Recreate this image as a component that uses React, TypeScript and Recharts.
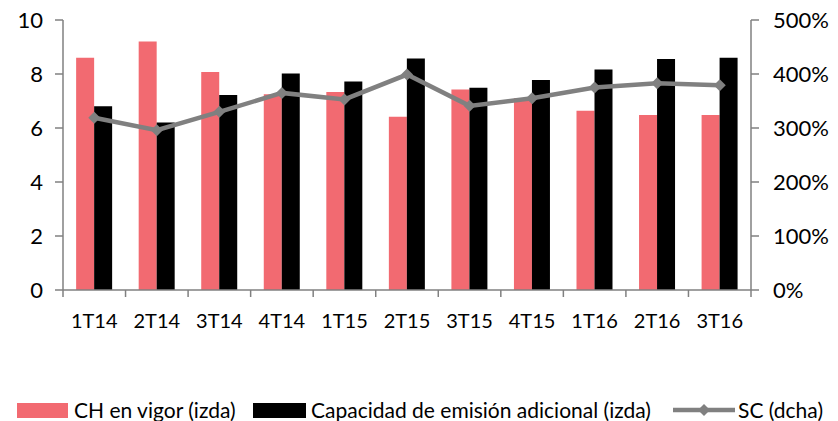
import React from "react";
import { ComposedChart, Bar, Line, XAxis, YAxis } from "recharts";

const categories = ["1T14", "2T14", "3T14", "4T14", "1T15", "2T15", "3T15", "4T15", "1T16", "2T16", "3T16"];
const chVigor = [8.6, 9.2, 8.07, 7.25, 7.33, 6.42, 7.43, 7.1, 6.64, 6.48, 6.48];
const capacidad = [6.81, 6.2, 7.22, 8.02, 7.72, 8.57, 7.49, 7.78, 8.17, 8.56, 8.6];
const sc = [319, 296, 330, 365, 353, 399, 341, 355, 375, 383, 379];
const leftTicks = [0, 2, 4, 6, 8, 10];
const rightTicks = [0, 100, 200, 300, 400, 500];

const data = categories.map((c, i) => ({ cat: c, ch: chVigor[i], cap: capacidad[i], sc: sc[i] }));

const RED = "#F26A71";
const GRAY = "#808080";
const FONT = "Lato, 'Open Sans', sans-serif";
const BAND = (751 - 63) / categories.length;

const XTick = (props: any) => {
  const { x, y, payload, index } = props;
  const axisY = y - 8;
  return (
    <g>
      <line x1={x - BAND / 2} x2={x - BAND / 2} y1={axisY} y2={axisY + 7} stroke={GRAY} strokeWidth={1.5} />
      {index === categories.length - 1 && (
        <line x1={x + BAND / 2} x2={x + BAND / 2} y1={axisY} y2={axisY + 7} stroke={GRAY} strokeWidth={1.5} />
      )}
      <text x={x} y={axisY + 38} textAnchor="middle" fontSize={20} fill="#000" fontFamily={FONT}>
        {payload.value}
      </text>
    </g>
  );
};

const Diamond = (props: any) => {
  const { cx, cy } = props;
  if (cx == null || cy == null) return null;
  const r = 6;
  return <path d={`M${cx},${cy - r}L${cx + r},${cy}L${cx},${cy + r}L${cx - r},${cy}Z`} fill={GRAY} />;
};

const textStyle: React.CSSProperties = {
  position: "absolute",
  top: 398,
  fontFamily: FONT,
  fontSize: 21,
  lineHeight: "24px",
  color: "#000",
  whiteSpace: "nowrap",
};

const Legend = () => (
  <div style={{ position: "absolute", left: 0, top: 0, width: 838, height: 421 }}>
    <div style={{ position: "absolute", left: 17, top: 403, width: 51, height: 15, background: RED }} />
    <span style={{ ...textStyle, left: 74 }}>CH en vigor (izda)</span>
    <div style={{ position: "absolute", left: 253, top: 403, width: 53, height: 15, background: "#000" }} />
    <span style={{ ...textStyle, left: 311 }}>Capacidad de emisión adicional (izda)</span>
    <svg width={62} height={14} style={{ position: "absolute", left: 673, top: 403 }}>
      <line x1={0} x2={62} y1={7} y2={7} stroke={GRAY} strokeWidth={4.5} />
      <path d="M31,1L37,7L31,13L25,7Z" fill={GRAY} />
    </svg>
    <span style={{ ...textStyle, left: 738 }}>SC (dcha)</span>
  </div>
);

export default function App() {
  return (
    <div style={{ position: "absolute", left: 0, top: 0, width: 838, height: 421, background: "#fff" }}>
      <ComposedChart
        width={838}
        height={421}
        data={data}
        margin={{ top: 20, right: 0, left: 0, bottom: 91 }}
        barCategoryGap="21%"
        barGap={0}
      >
        <XAxis
          dataKey="cat"
          height={40}
          axisLine={{ stroke: GRAY, strokeWidth: 1.5 }}
          tickLine={false}
          tick={<XTick />}
          interval={0}
        />
        <YAxis
          yAxisId="left"
          width={63}
          domain={[0, 10]}
          ticks={leftTicks}
          axisLine={{ stroke: GRAY, strokeWidth: 1.5 }}
          tickLine={{ stroke: GRAY, strokeWidth: 1.5 }}
          tickSize={8}
          tickMargin={12}
          tick={{ fontSize: 22, fill: "#000", fontFamily: FONT }}
        />
        <YAxis
          yAxisId="right"
          orientation="right"
          width={87}
          domain={[0, 500]}
          ticks={rightTicks}
          tickFormatter={(v: number) => `${v}%`}
          axisLine={{ stroke: GRAY, strokeWidth: 1.5 }}
          tickLine={{ stroke: GRAY, strokeWidth: 1.5 }}
          tickSize={8}
          tickMargin={14}
          tick={{ fontSize: 22, fill: "#000", fontFamily: FONT }}
        />
        <Bar yAxisId="left" dataKey="ch" fill={RED} isAnimationActive={false} />
        <Bar yAxisId="left" dataKey="cap" fill="#000" isAnimationActive={false} />
        <Line
          yAxisId="right"
          dataKey="sc"
          stroke={GRAY}
          strokeWidth={4.5}
          dot={<Diamond />}
          activeDot={false}
          isAnimationActive={false}
        />
      </ComposedChart>
      <Legend />
    </div>
  );
}
